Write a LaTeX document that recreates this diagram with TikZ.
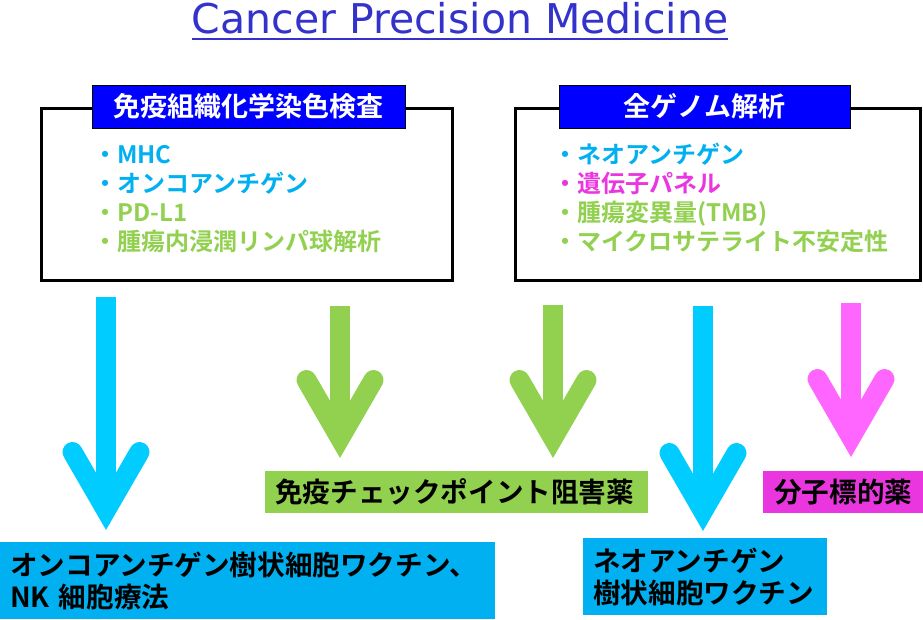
\documentclass[tikz,border=0pt]{standalone}
\usepackage{xcolor}
\definecolor{PrecTitle}{HTML}{3333CC}
\definecolor{PrecHeader}{HTML}{0000FF}
\definecolor{PrecCyan}{HTML}{00B0F0}
\definecolor{PrecGreen}{HTML}{92D050}
\definecolor{PrecPink}{HTML}{EA36DE}
\definecolor{ArrowCyan}{HTML}{00CCFF}
\definecolor{ArrowPink}{HTML}{FF66FF}
\usepackage{fontspec}
\newfontfamily\titlefont{DejaVu Sans}
\newfontfamily\jpfont{Noto Sans CJK JP}[BoldFont={Noto Sans CJK JP Bold}]
\usepackage{tikz}
\usetikzlibrary{calc}
\tikzset{
	framebox/.style={draw=black, line width=3pt, minimum width=#1, minimum height=172pt},
	headbox/.style={draw=black, line width=0.8pt, fill=PrecHeader, text=white, minimum height=43pt, inner sep=0pt, font=\jpfont\bfseries\fontsize{27}{27}\selectfont},
	listitem/.style={anchor=west, inner sep=0pt, text height=21pt, text depth=3pt, font=\jpfont\bfseries\fontsize{24}{24}\selectfont},
	result/.style={anchor=north west, inner xsep=10pt, inner ysep=0pt, align=left, font=\jpfont\bfseries\fontsize{27.6}{32}\selectfont}
}

\begin{document}
\begin{tikzpicture}[x=1pt,y=-1pt]
		\useasboundingbox (0,0) rectangle (923,619);
		\def\headW{20}  % width of shaft and head
		\def\tipUp{20}  % miter overshoot below the vertex
		
		% title
		\node[anchor=base, inner sep=0pt, text=PrecTitle, font=\titlefont\fontsize{41}{41}\selectfont] (title) at (460,33) {Cancer Precision Medicine};
		\draw[PrecTitle, line width=2pt] ([yshift=-5.5pt]title.base west) -- ([yshift=-5.5pt]title.base east);
		
		% the two test boxes
		\node[framebox=411pt] (ihcframe) at (247,194.5) {};
		\node[headbox, minimum width=313pt] (ihchead) at (248.5,106.5) {免疫組織化学染色検査};
		\node[framebox=405pt] (wgsframe) at (718,194.5) {};
		\node[headbox, minimum width=291pt] (wgshead) at (704.5,106.5) {全ゲノム解析};
		
		\node[listitem, text=PrecCyan] (ihc1) at (93,154) {・MHC};
		\node[listitem, text=PrecCyan] (ihc2) at (93,183) {・オンコアンチゲン};
		\node[listitem, text=PrecGreen] (ihc3) at (93,212) {・PD-L1};
		\node[listitem, text=PrecGreen] (ihc4) at (93,241) {・腫瘍内浸潤リンパ球解析};
		
		\node[listitem, text=PrecCyan] (wgs1) at (553,154) {・ネオアンチゲン};
		\node[listitem, text=PrecPink] (wgs2) at (553,183) {・遺伝子パネル};
		\node[listitem, text=PrecGreen] (wgs3) at (553,212) {・腫瘍変異量(TMB)};
		\node[listitem, text=PrecGreen] (wgs4) at (553,241) {・マイクロサテライト不安定性};
		
		% arrows
		\foreach \n/\x/\ys/\ye/\c in {1/106/297/530/ArrowCyan, 2/340/306/458/PrecGreen, 3/553/305/458/PrecGreen, 4/703/306/531/ArrowCyan, 5/851/303/457/ArrowPink}{
			\coordinate (top\n) at (\x,\ys);
			\coordinate (tip\n) at (\x,\ye);
			\draw[\c, line width=\headW pt] (top\n) -- ($(tip\n)+(0,-\tipUp)$);
			\draw[\c, line width=\headW pt, line cap=round, line join=miter] ($(tip\n)+(-33.5,-78)$) -- ($(tip\n)+(0,-\tipUp)$) -- ($(tip\n)+(33.5,-78)$);
		}
		
		% therapies
		\node[result, fill=PrecGreen, text width=363pt, minimum height=42pt] (icibox) at (265,471) {免疫チェックポイント阻害薬};
		\node[result, fill=PrecPink, text width=138pt, minimum height=42pt, inner xsep=11pt] (mtbox) at (763,471) {分子標的薬};
		\node[result, fill=PrecCyan, text width=475pt, minimum height=77pt] (oncbox) at (0,542) {オンコアンチゲン樹状細胞ワクチン、\\NK 細胞療法};
		\node[result, fill=PrecCyan, text width=224pt, minimum height=77pt] (neobox) at (583,538) {ネオアンチゲン\\樹状細胞ワクチン};
		
	\end{tikzpicture}
\end{document}
